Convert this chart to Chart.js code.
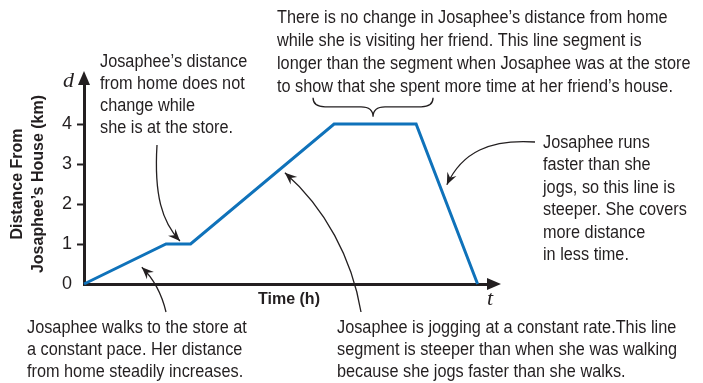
<!DOCTYPE html>
<html>
<head>
<meta charset="utf-8">
<script src="https://cdn.jsdelivr.net/npm/chart.js@4.4.1/dist/chart.umd.min.js"></script>
<style>
  html, body { margin: 0; padding: 0; background: #fff; }
  #wrap { width: 703px; height: 383px; position: relative; }
</style>
</head>
<body>
<div id="wrap"><canvas id="chart"></canvas></div>
<script>
// distance-time graph data
const times = [0, 2, 2.6, 6.1, 8.1, 9.6];
const distances = [0, 1, 1, 4, 4, 0];
const yTickLabels = [0, 1, 2, 3, 4];

const yTitle = ['Distance From', 'Josaphee\u2019s House (km)'];
const xTitle = 'Time (h)';

const noteStore = ['Josaphee\u2019s distance', 'from home does not', 'change while', 'she is at the store.'];
const noteFriend = [
    'There is no change in Josaphee\u2019s distance from home',
    'while she is visiting her friend. This line segment is',
    'longer than the segment when Josaphee was at the store',
    'to show that she spent more time at her friend\u2019s house.'
];
const noteRun = ['Josaphee runs', 'faster than she', 'jogs, so this line is', 'steeper. She covers', 'more distance', 'in less time.'];
const noteWalk = ['Josaphee walks to the store at', 'a constant pace. Her distance', 'from home steadily increases.'];
const noteJog = [
    'Josaphee is jogging at a constant rate.This line',
    'segment is steeper than when she was walking',
    'because she jogs faster than she walks.'
];

const INK = '#231f20';
const BLUE = '#0f72ba';
const SANS = '"Liberation Sans", Arial, sans-serif';
const TEXT_FONT = '17.5px ' + SANS;
const NARROW = 0.93; // the printed face is a narrow one

function arrowHead(ctx, fromX, fromY, tipX, tipY) {
    const a = Math.atan2(tipY - fromY, tipX - fromX);
    const len = 12, half = 5;
    const cos = Math.cos(a), sin = Math.sin(a);
    ctx.beginPath();
    ctx.moveTo(tipX, tipY);
    ctx.lineTo(tipX - len * cos + half * sin, tipY - len * sin - half * cos);
    ctx.lineTo(tipX - len * 0.65 * cos, tipY - len * 0.65 * sin);
    ctx.lineTo(tipX - len * cos - half * sin, tipY - len * sin + half * cos);
    ctx.closePath();
    ctx.fill();
}

function curvedArrow(ctx, s, c1, c2, tip) {
    ctx.beginPath();
    ctx.moveTo(s[0], s[1]);
    ctx.bezierCurveTo(c1[0], c1[1], c2[0], c2[1], tip[0], tip[1]);
    ctx.stroke();
    arrowHead(ctx, c2[0], c2[1], tip[0], tip[1]);
}

function textBlock(ctx, lines, x, y0, step) {
    lines.forEach((l, i) => {
        ctx.save();
        ctx.translate(x, y0 + i * step);
        ctx.scale(NARROW, 1);
        ctx.fillText(l, 0, 0);
        ctx.restore();
    });
}

const notesPlugin = {
    id: 'notes',
    afterDraw(chart) {
        const { ctx, chartArea, scales: { x, y } } = chart;
        const px = (t, d) => [x.getPixelForValue(t), y.getPixelForValue(d)];
        ctx.save();
        ctx.fillStyle = INK;
        ctx.strokeStyle = INK;

        // axis arrowheads
        const ox = chartArea.left, oy = chartArea.bottom;
        ctx.beginPath();
        ctx.moveTo(chartArea.right + 7, oy);
        ctx.lineTo(chartArea.right - 7, oy - 6);
        ctx.lineTo(chartArea.right - 7, oy + 6);
        ctx.closePath();
        ctx.fill();
        ctx.beginPath();
        ctx.moveTo(ox, chartArea.top - 13);
        ctx.lineTo(ox - 6, chartArea.top + 1);
        ctx.lineTo(ox + 6, chartArea.top + 1);
        ctx.closePath();
        ctx.fill();

        // axis letters
        ctx.font = 'italic 22px "Liberation Serif", serif';
        ctx.textBaseline = 'alphabetic';
        ctx.textAlign = 'left';
        ctx.fillText('d', ox - 21, chartArea.top + 3);
        ctx.fillText('t', chartArea.right - 7, oy + 21);

        // notes
        ctx.font = TEXT_FONT;
        textBlock(ctx, noteFriend, 277, 22.5, 23);
        textBlock(ctx, noteStore, 100, 67, 22);
        textBlock(ctx, noteRun, 543, 148, 22.4);
        textBlock(ctx, noteWalk, 27, 333, 22);
        textBlock(ctx, noteJog, 337, 333, 22);

        // pointer arrows
        ctx.lineWidth = 1.3;
        let tip = px(2.34, 1); tip[1] -= 3;
        curvedArrow(ctx, [157, 145], [154, 195], [162, 222], tip);
        tip = px(1.41, 0.42);
        curvedArrow(ctx, [166, 312], [162, 295], [155, 280], tip);
        tip = px(4.9, 2.78);
        curvedArrow(ctx, [361, 312], [352, 258], [325, 208], tip);
        tip = px(8.85, 2.48);
        curvedArrow(ctx, [535, 142], [490, 139], [462, 152], tip);

        // brace over the long flat segment
        const b = px(7.05, 4.18);
        const bx = b[0], by = b[1], w = 60, top = by - 19, mid = by - 10;
        ctx.beginPath();
        ctx.moveTo(bx - w, top);
        ctx.quadraticCurveTo(bx - w, mid, bx - w + 12, mid);
        ctx.lineTo(bx - 12, mid);
        ctx.quadraticCurveTo(bx, mid, bx, by);
        ctx.quadraticCurveTo(bx, mid, bx + 12, mid);
        ctx.lineTo(bx + w - 12, mid);
        ctx.quadraticCurveTo(bx + w, mid, bx + w, top);
        ctx.stroke();
        ctx.restore();
    }
};

new Chart(document.getElementById('chart'), {
    type: 'line',
    data: {
        datasets: [{
            data: times.map((t, i) => ({ x: t, y: distances[i] })),
            borderColor: BLUE,
            borderWidth: 3,
            pointRadius: 0,
            tension: 0,
            clip: false
        }]
    },
    options: {
        responsive: true,
        maintainAspectRatio: false,
        animation: false,
        events: [],
        layout: { padding: { left: 0, right: 209, top: 84, bottom: 0 } },
        plugins: { legend: { display: false }, tooltip: { enabled: false } },
        scales: {
            x: {
                type: 'linear',
                min: 0,
                max: 10,
                afterFit(scale) { scale.height = 99; },
                ticks: { display: false },
                grid: { display: false },
                border: { display: true, color: INK, width: 3 },
                title: {
                    display: true,
                    text: xTitle,
                    color: INK,
                    font: { family: SANS, size: 16, weight: 'bold', lineHeight: 1.2 },
                    padding: { top: 0, bottom: 74 }
                }
            },
            y: {
                min: 0,
                max: 5,
                afterFit(scale) { scale.width = 84; },
                afterBuildTicks(scale) {
                    scale.ticks = yTickLabels.map(v => ({ value: v }));
                },
                ticks: {
                    color: INK,
                    padding: 5,
                    font: { family: SANS, size: 18 }
                },
                grid: {
                    drawOnChartArea: false,
                    drawTicks: true,
                    tickLength: 7,
                    tickWidth: 2,
                    tickColor: c => (c.tick && c.tick.value > 0) ? INK : 'rgba(0,0,0,0)'
                },
                border: { display: true, color: INK, width: 3 },
                title: {
                    display: true,
                    text: yTitle,
                    color: INK,
                    font: { family: SANS, size: 16, weight: 'bold', lineHeight: 1.3 },
                    padding: { top: 7, bottom: 0 }
                }
            }
        }
    },
    plugins: [notesPlugin]
});
</script>
</body>
</html>
